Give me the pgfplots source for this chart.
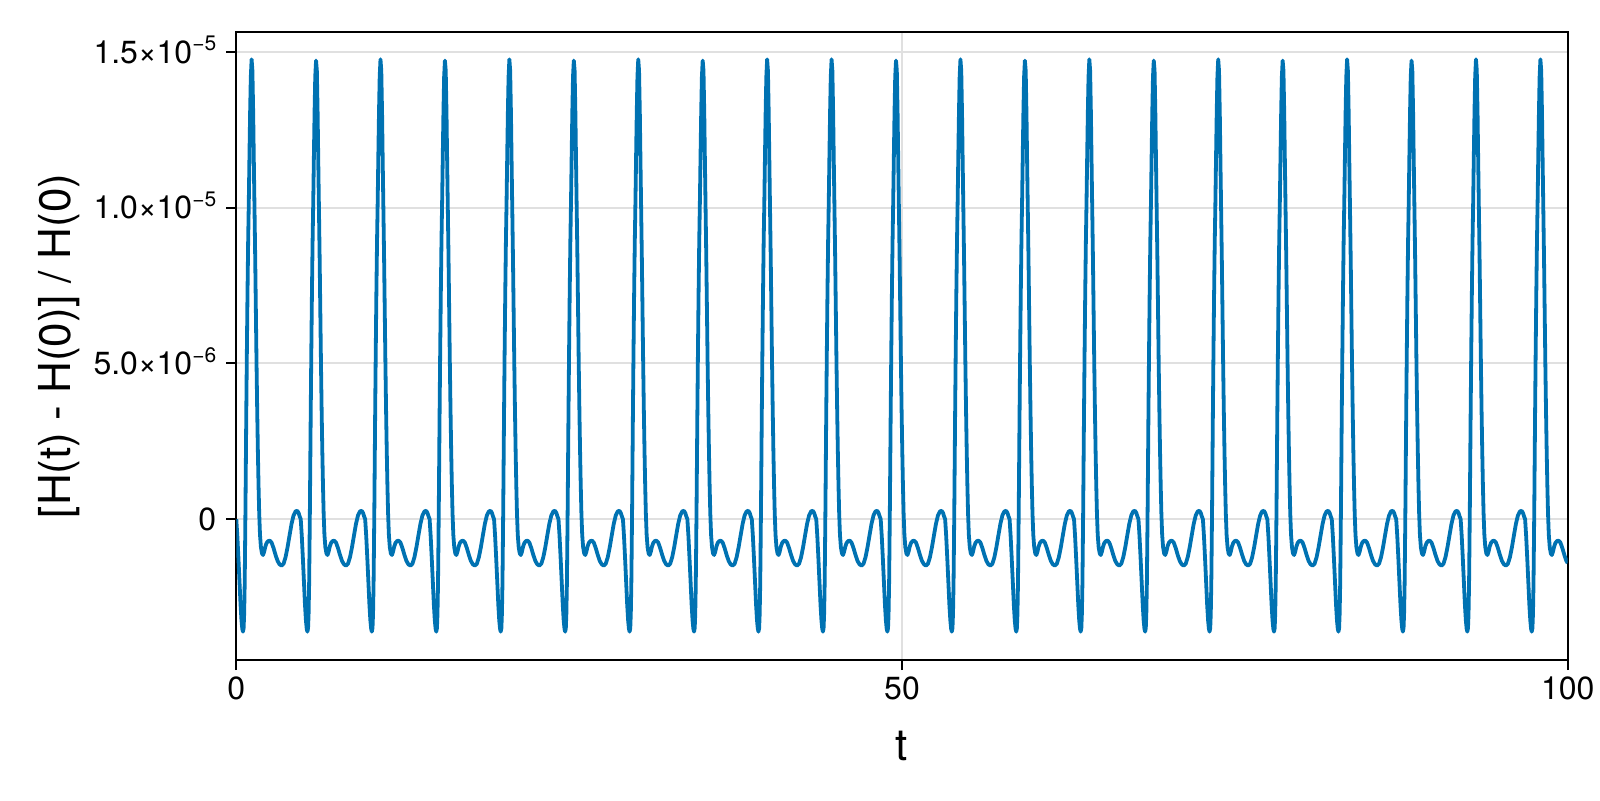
\documentclass[border=0pt]{standalone}
\usepackage{fontspec}
\setmainfont{TeX Gyre Heros}
\usepackage{pgfplots}
\pgfplotsset{compat=1.18}
\definecolor{wongblue}{RGB}{0,114,178}
% tick label like 1.5x10^-5, all in the text font
\newcommand{\sci}[2]{#1×10\raisebox{6.3pt}{\fontsize{10.5}{10.5}\selectfont −#2}}

\begin{document}
\begin{tikzpicture}
\useasboundingbox (-118.15pt,-70pt) rectangle (681.85pt,330pt);
\begin{axis}[
    at={(0,0)}, anchor=south west,
    scale only axis,
    width=665.7pt, height=314.2pt,
    xmin=0, xmax=100,
    ymin=-4.52, ymax=15.65,
    xtick={0,50,100},
    xticklabels={0,50,100},
    ytick={0,5,10,15},
    yticklabels={0,\sci{5.0}{6},\sci{1.0}{5},\sci{1.5}{5}},
    xtick pos=bottom, ytick pos=left,
    tick align=outside,
    major tick length=5pt,
    every tick/.style={black, line width=1pt},
    axis line style={line width=1pt},
    grid=major,
    major grid style={line width=1pt, color=black!12},
    tick label style={font=\fontsize{16}{19}\selectfont},
    yticklabel style={anchor=base east, yshift=-5.6pt, xshift=-1.5pt},
    label style={font=\fontsize{22}{26}\selectfont},
    xlabel={t},
    xlabel style={at={(axis description cs:0.5,-0.1603)}, anchor=base},
    ylabel={[H(t) - H(0)] / H(0)},
    ylabel style={at={(axis description cs:-0.1332,0.5)}, anchor=center},
]
% y in units of 1e-6
\addplot[wongblue, line width=1.9pt, line join=round] coordinates {
(0,0) (0.08,-0.55) (0.16,-1.25) (0.24,-2) (0.32,-2.75) (0.39,-3.25) (0.45,-3.52) (0.5,-3.61) (0.55,-3.5) (0.59,-3.05) (0.63,-2.1) (0.66,-0.9) (0.69,0.4) (0.72,1.9) (0.75,3.4) (0.79,5.2) (0.84,7.2) (0.89,8.9) (0.94,10.2) (0.99,11.7) (1.04,13.1) (1.09,14.2) (1.15,14.76) (1.21,14.4) (1.27,13) (1.32,11.4) (1.37,9.9) (1.42,8.4) (1.47,6.7) (1.52,5) (1.57,3.5) (1.62,2.2) (1.67,1.1) (1.72,0.2) (1.78,-0.5) (1.85,-0.9) (1.93,-1.1) (2.01,-1.15) (2.09,-1.05) (2.18,-0.88) (2.28,-0.76) (2.4,-0.7) (2.52,-0.69) (2.65,-0.75) (2.8,-0.93) (2.95,-1.15) (3.1,-1.34) (3.25,-1.45) (3.4,-1.49) (3.55,-1.43) (3.7,-1.22) (3.85,-0.9) (4,-0.52) (4.15,-0.15) (4.3,0.12) (4.45,0.25) (4.58,0.27) (4.68,0.2) (4.76,0.09)
(4.84,0) (4.92,-0.55) (5,-1.25) (5.08,-2) (5.16,-2.75) (5.23,-3.25) (5.29,-3.52) (5.34,-3.61) (5.39,-3.5) (5.43,-3.05) (5.47,-2.1) (5.5,-0.9) (5.53,0.4) (5.56,1.9) (5.59,3.4) (5.63,5.2) (5.68,7.2) (5.73,8.9) (5.78,10.2) (5.83,11.7) (5.88,13.1) (5.93,14.2) (5.99,14.72) (6.05,14.4) (6.11,13) (6.16,11.4) (6.21,9.9) (6.26,8.4) (6.31,6.7) (6.36,5) (6.41,3.5) (6.46,2.2) (6.51,1.1) (6.56,0.2) (6.62,-0.5) (6.69,-0.9) (6.77,-1.1) (6.85,-1.15) (6.93,-1.05) (7.02,-0.88) (7.12,-0.76) (7.24,-0.7) (7.36,-0.69) (7.49,-0.75) (7.64,-0.93) (7.79,-1.15) (7.94,-1.34) (8.09,-1.45) (8.24,-1.49) (8.39,-1.43) (8.54,-1.22) (8.69,-0.9) (8.84,-0.52) (8.99,-0.15) (9.14,0.12) (9.29,0.25) (9.42,0.27) (9.52,0.2) (9.6,0.09)
(9.68,0) (9.76,-0.55) (9.84,-1.25) (9.92,-2) (10,-2.75) (10.07,-3.25) (10.13,-3.52) (10.18,-3.61) (10.23,-3.5) (10.27,-3.05) (10.31,-2.1) (10.34,-0.9) (10.37,0.4) (10.4,1.9) (10.43,3.4) (10.47,5.2) (10.52,7.2) (10.57,8.9) (10.62,10.2) (10.67,11.7) (10.72,13.1) (10.77,14.2) (10.83,14.76) (10.89,14.4) (10.95,13) (11,11.4) (11.05,9.9) (11.1,8.4) (11.15,6.7) (11.2,5) (11.25,3.5) (11.3,2.2) (11.35,1.1) (11.4,0.2) (11.46,-0.5) (11.53,-0.9) (11.61,-1.1) (11.69,-1.15) (11.77,-1.05) (11.86,-0.88) (11.96,-0.76) (12.08,-0.7) (12.2,-0.69) (12.33,-0.75) (12.48,-0.93) (12.63,-1.15) (12.78,-1.34) (12.93,-1.45) (13.08,-1.49) (13.23,-1.43) (13.38,-1.22) (13.53,-0.9) (13.68,-0.52) (13.83,-0.15) (13.98,0.12) (14.13,0.25) (14.26,0.27) (14.36,0.2) (14.44,0.09)
(14.52,0) (14.6,-0.55) (14.68,-1.25) (14.76,-2) (14.84,-2.75) (14.91,-3.25) (14.97,-3.52) (15.02,-3.61) (15.07,-3.5) (15.11,-3.05) (15.15,-2.1) (15.18,-0.9) (15.21,0.4) (15.24,1.9) (15.27,3.4) (15.31,5.2) (15.36,7.2) (15.41,8.9) (15.46,10.2) (15.51,11.7) (15.56,13.1) (15.61,14.2) (15.67,14.72) (15.73,14.4) (15.79,13) (15.84,11.4) (15.89,9.9) (15.94,8.4) (15.99,6.7) (16.04,5) (16.09,3.5) (16.14,2.2) (16.19,1.1) (16.24,0.2) (16.3,-0.5) (16.37,-0.9) (16.45,-1.1) (16.53,-1.15) (16.61,-1.05) (16.7,-0.88) (16.8,-0.76) (16.92,-0.7) (17.04,-0.69) (17.17,-0.75) (17.32,-0.93) (17.47,-1.15) (17.62,-1.34) (17.77,-1.45) (17.92,-1.49) (18.07,-1.43) (18.22,-1.22) (18.37,-0.9) (18.52,-0.52) (18.67,-0.15) (18.82,0.12) (18.97,0.25) (19.1,0.27) (19.2,0.2) (19.28,0.09)
(19.36,0) (19.44,-0.55) (19.52,-1.25) (19.6,-2) (19.68,-2.75) (19.75,-3.25) (19.81,-3.52) (19.86,-3.61) (19.91,-3.5) (19.95,-3.05) (19.99,-2.1) (20.02,-0.9) (20.05,0.4) (20.08,1.9) (20.11,3.4) (20.15,5.2) (20.2,7.2) (20.25,8.9) (20.3,10.2) (20.35,11.7) (20.4,13.1) (20.45,14.2) (20.51,14.76) (20.57,14.4) (20.63,13) (20.68,11.4) (20.73,9.9) (20.78,8.4) (20.83,6.7) (20.88,5) (20.93,3.5) (20.98,2.2) (21.03,1.1) (21.08,0.2) (21.14,-0.5) (21.21,-0.9) (21.29,-1.1) (21.37,-1.15) (21.45,-1.05) (21.54,-0.88) (21.64,-0.76) (21.76,-0.7) (21.88,-0.69) (22.01,-0.75) (22.16,-0.93) (22.31,-1.15) (22.46,-1.34) (22.61,-1.45) (22.76,-1.49) (22.91,-1.43) (23.06,-1.22) (23.21,-0.9) (23.36,-0.52) (23.51,-0.15) (23.66,0.12) (23.81,0.25) (23.94,0.27) (24.04,0.2) (24.12,0.09)
(24.2,0) (24.28,-0.55) (24.36,-1.25) (24.44,-2) (24.52,-2.75) (24.59,-3.25) (24.65,-3.52) (24.7,-3.61) (24.75,-3.5) (24.79,-3.05) (24.83,-2.1) (24.86,-0.9) (24.89,0.4) (24.92,1.9) (24.95,3.4) (24.99,5.2) (25.04,7.2) (25.09,8.9) (25.14,10.2) (25.19,11.7) (25.24,13.1) (25.29,14.2) (25.35,14.72) (25.41,14.4) (25.47,13) (25.52,11.4) (25.57,9.9) (25.62,8.4) (25.67,6.7) (25.72,5) (25.77,3.5) (25.82,2.2) (25.87,1.1) (25.92,0.2) (25.98,-0.5) (26.05,-0.9) (26.13,-1.1) (26.21,-1.15) (26.29,-1.05) (26.38,-0.88) (26.48,-0.76) (26.6,-0.7) (26.72,-0.69) (26.85,-0.75) (27,-0.93) (27.15,-1.15) (27.3,-1.34) (27.45,-1.45) (27.6,-1.49) (27.75,-1.43) (27.9,-1.22) (28.05,-0.9) (28.2,-0.52) (28.35,-0.15) (28.5,0.12) (28.65,0.25) (28.78,0.27) (28.88,0.2) (28.96,0.09)
(29.04,0) (29.12,-0.55) (29.2,-1.25) (29.28,-2) (29.36,-2.75) (29.43,-3.25) (29.49,-3.52) (29.54,-3.61) (29.59,-3.5) (29.63,-3.05) (29.67,-2.1) (29.7,-0.9) (29.73,0.4) (29.76,1.9) (29.79,3.4) (29.83,5.2) (29.88,7.2) (29.93,8.9) (29.98,10.2) (30.03,11.7) (30.08,13.1) (30.13,14.2) (30.19,14.76) (30.25,14.4) (30.31,13) (30.36,11.4) (30.41,9.9) (30.46,8.4) (30.51,6.7) (30.56,5) (30.61,3.5) (30.66,2.2) (30.71,1.1) (30.76,0.2) (30.82,-0.5) (30.89,-0.9) (30.97,-1.1) (31.05,-1.15) (31.13,-1.05) (31.22,-0.88) (31.32,-0.76) (31.44,-0.7) (31.56,-0.69) (31.69,-0.75) (31.84,-0.93) (31.99,-1.15) (32.14,-1.34) (32.29,-1.45) (32.44,-1.49) (32.59,-1.43) (32.74,-1.22) (32.89,-0.9) (33.04,-0.52) (33.19,-0.15) (33.34,0.12) (33.49,0.25) (33.62,0.27) (33.72,0.2) (33.8,0.09)
(33.88,0) (33.96,-0.55) (34.04,-1.25) (34.12,-2) (34.2,-2.75) (34.27,-3.25) (34.33,-3.52) (34.38,-3.61) (34.43,-3.5) (34.47,-3.05) (34.51,-2.1) (34.54,-0.9) (34.57,0.4) (34.6,1.9) (34.63,3.4) (34.67,5.2) (34.72,7.2) (34.77,8.9) (34.82,10.2) (34.87,11.7) (34.92,13.1) (34.97,14.2) (35.03,14.72) (35.09,14.4) (35.15,13) (35.2,11.4) (35.25,9.9) (35.3,8.4) (35.35,6.7) (35.4,5) (35.45,3.5) (35.5,2.2) (35.55,1.1) (35.6,0.2) (35.66,-0.5) (35.73,-0.9) (35.81,-1.1) (35.89,-1.15) (35.97,-1.05) (36.06,-0.88) (36.16,-0.76) (36.28,-0.7) (36.4,-0.69) (36.53,-0.75) (36.68,-0.93) (36.83,-1.15) (36.98,-1.34) (37.13,-1.45) (37.28,-1.49) (37.43,-1.43) (37.58,-1.22) (37.73,-0.9) (37.88,-0.52) (38.03,-0.15) (38.18,0.12) (38.33,0.25) (38.46,0.27) (38.56,0.2) (38.64,0.09)
(38.72,0) (38.8,-0.55) (38.88,-1.25) (38.96,-2) (39.04,-2.75) (39.11,-3.25) (39.17,-3.52) (39.22,-3.61) (39.27,-3.5) (39.31,-3.05) (39.35,-2.1) (39.38,-0.9) (39.41,0.4) (39.44,1.9) (39.47,3.4) (39.51,5.2) (39.56,7.2) (39.61,8.9) (39.66,10.2) (39.71,11.7) (39.76,13.1) (39.81,14.2) (39.87,14.76) (39.93,14.4) (39.99,13) (40.04,11.4) (40.09,9.9) (40.14,8.4) (40.19,6.7) (40.24,5) (40.29,3.5) (40.34,2.2) (40.39,1.1) (40.44,0.2) (40.5,-0.5) (40.57,-0.9) (40.65,-1.1) (40.73,-1.15) (40.81,-1.05) (40.9,-0.88) (41,-0.76) (41.12,-0.7) (41.24,-0.69) (41.37,-0.75) (41.52,-0.93) (41.67,-1.15) (41.82,-1.34) (41.97,-1.45) (42.12,-1.49) (42.27,-1.43) (42.42,-1.22) (42.57,-0.9) (42.72,-0.52) (42.87,-0.15) (43.02,0.12) (43.17,0.25) (43.3,0.27) (43.4,0.2) (43.48,0.09)
(43.56,0) (43.64,-0.55) (43.72,-1.25) (43.8,-2) (43.88,-2.75) (43.95,-3.25) (44.01,-3.52) (44.06,-3.61) (44.11,-3.5) (44.15,-3.05) (44.19,-2.1) (44.22,-0.9) (44.25,0.4) (44.28,1.9) (44.31,3.4) (44.35,5.2) (44.4,7.2) (44.45,8.9) (44.5,10.2) (44.55,11.7) (44.6,13.1) (44.65,14.2) (44.71,14.76) (44.77,14.4) (44.83,13) (44.88,11.4) (44.93,9.9) (44.98,8.4) (45.03,6.7) (45.08,5) (45.13,3.5) (45.18,2.2) (45.23,1.1) (45.28,0.2) (45.34,-0.5) (45.41,-0.9) (45.49,-1.1) (45.57,-1.15) (45.65,-1.05) (45.74,-0.88) (45.84,-0.76) (45.96,-0.7) (46.08,-0.69) (46.21,-0.75) (46.36,-0.93) (46.51,-1.15) (46.66,-1.34) (46.81,-1.45) (46.96,-1.49) (47.11,-1.43) (47.26,-1.22) (47.41,-0.9) (47.56,-0.52) (47.71,-0.15) (47.86,0.12) (48.01,0.25) (48.14,0.27) (48.24,0.2) (48.32,0.09)
(48.4,0) (48.48,-0.55) (48.56,-1.25) (48.64,-2) (48.72,-2.75) (48.79,-3.25) (48.85,-3.52) (48.9,-3.61) (48.95,-3.5) (48.99,-3.05) (49.03,-2.1) (49.06,-0.9) (49.09,0.4) (49.12,1.9) (49.15,3.4) (49.19,5.2) (49.24,7.2) (49.29,8.9) (49.34,10.2) (49.39,11.7) (49.44,13.1) (49.49,14.2) (49.55,14.72) (49.61,14.4) (49.67,13) (49.72,11.4) (49.77,9.9) (49.82,8.4) (49.87,6.7) (49.92,5) (49.97,3.5) (50.02,2.2) (50.07,1.1) (50.12,0.2) (50.18,-0.5) (50.25,-0.9) (50.33,-1.1) (50.41,-1.15) (50.49,-1.05) (50.58,-0.88) (50.68,-0.76) (50.8,-0.7) (50.92,-0.69) (51.05,-0.75) (51.2,-0.93) (51.35,-1.15) (51.5,-1.34) (51.65,-1.45) (51.8,-1.49) (51.95,-1.43) (52.1,-1.22) (52.25,-0.9) (52.4,-0.52) (52.55,-0.15) (52.7,0.12) (52.85,0.25) (52.98,0.27) (53.08,0.2) (53.16,0.09)
(53.24,0) (53.32,-0.55) (53.4,-1.25) (53.48,-2) (53.56,-2.75) (53.63,-3.25) (53.69,-3.52) (53.74,-3.61) (53.79,-3.5) (53.83,-3.05) (53.87,-2.1) (53.9,-0.9) (53.93,0.4) (53.96,1.9) (53.99,3.4) (54.03,5.2) (54.08,7.2) (54.13,8.9) (54.18,10.2) (54.23,11.7) (54.28,13.1) (54.33,14.2) (54.39,14.76) (54.45,14.4) (54.51,13) (54.56,11.4) (54.61,9.9) (54.66,8.4) (54.71,6.7) (54.76,5) (54.81,3.5) (54.86,2.2) (54.91,1.1) (54.96,0.2) (55.02,-0.5) (55.09,-0.9) (55.17,-1.1) (55.25,-1.15) (55.33,-1.05) (55.42,-0.88) (55.52,-0.76) (55.64,-0.7) (55.76,-0.69) (55.89,-0.75) (56.04,-0.93) (56.19,-1.15) (56.34,-1.34) (56.49,-1.45) (56.64,-1.49) (56.79,-1.43) (56.94,-1.22) (57.09,-0.9) (57.24,-0.52) (57.39,-0.15) (57.54,0.12) (57.69,0.25) (57.82,0.27) (57.92,0.2) (58,0.09)
(58.08,0) (58.16,-0.55) (58.24,-1.25) (58.32,-2) (58.4,-2.75) (58.47,-3.25) (58.53,-3.52) (58.58,-3.61) (58.63,-3.5) (58.67,-3.05) (58.71,-2.1) (58.74,-0.9) (58.77,0.4) (58.8,1.9) (58.83,3.4) (58.87,5.2) (58.92,7.2) (58.97,8.9) (59.02,10.2) (59.07,11.7) (59.12,13.1) (59.17,14.2) (59.23,14.72) (59.29,14.4) (59.35,13) (59.4,11.4) (59.45,9.9) (59.5,8.4) (59.55,6.7) (59.6,5) (59.65,3.5) (59.7,2.2) (59.75,1.1) (59.8,0.2) (59.86,-0.5) (59.93,-0.9) (60.01,-1.1) (60.09,-1.15) (60.17,-1.05) (60.26,-0.88) (60.36,-0.76) (60.48,-0.7) (60.6,-0.69) (60.73,-0.75) (60.88,-0.93) (61.03,-1.15) (61.18,-1.34) (61.33,-1.45) (61.48,-1.49) (61.63,-1.43) (61.78,-1.22) (61.93,-0.9) (62.08,-0.52) (62.23,-0.15) (62.38,0.12) (62.53,0.25) (62.66,0.27) (62.76,0.2) (62.84,0.09)
(62.92,0) (63,-0.55) (63.08,-1.25) (63.16,-2) (63.24,-2.75) (63.31,-3.25) (63.37,-3.52) (63.42,-3.61) (63.47,-3.5) (63.51,-3.05) (63.55,-2.1) (63.58,-0.9) (63.61,0.4) (63.64,1.9) (63.67,3.4) (63.71,5.2) (63.76,7.2) (63.81,8.9) (63.86,10.2) (63.91,11.7) (63.96,13.1) (64.01,14.2) (64.07,14.76) (64.13,14.4) (64.19,13) (64.24,11.4) (64.29,9.9) (64.34,8.4) (64.39,6.7) (64.44,5) (64.49,3.5) (64.54,2.2) (64.59,1.1) (64.64,0.2) (64.7,-0.5) (64.77,-0.9) (64.85,-1.1) (64.93,-1.15) (65.01,-1.05) (65.1,-0.88) (65.2,-0.76) (65.32,-0.7) (65.44,-0.69) (65.57,-0.75) (65.72,-0.93) (65.87,-1.15) (66.02,-1.34) (66.17,-1.45) (66.32,-1.49) (66.47,-1.43) (66.62,-1.22) (66.77,-0.9) (66.92,-0.52) (67.07,-0.15) (67.22,0.12) (67.37,0.25) (67.5,0.27) (67.6,0.2) (67.68,0.09)
(67.76,0) (67.84,-0.55) (67.92,-1.25) (68,-2) (68.08,-2.75) (68.15,-3.25) (68.21,-3.52) (68.26,-3.61) (68.31,-3.5) (68.35,-3.05) (68.39,-2.1) (68.42,-0.9) (68.45,0.4) (68.48,1.9) (68.51,3.4) (68.55,5.2) (68.6,7.2) (68.65,8.9) (68.7,10.2) (68.75,11.7) (68.8,13.1) (68.85,14.2) (68.91,14.72) (68.97,14.4) (69.03,13) (69.08,11.4) (69.13,9.9) (69.18,8.4) (69.23,6.7) (69.28,5) (69.33,3.5) (69.38,2.2) (69.43,1.1) (69.48,0.2) (69.54,-0.5) (69.61,-0.9) (69.69,-1.1) (69.77,-1.15) (69.85,-1.05) (69.94,-0.88) (70.04,-0.76) (70.16,-0.7) (70.28,-0.69) (70.41,-0.75) (70.56,-0.93) (70.71,-1.15) (70.86,-1.34) (71.01,-1.45) (71.16,-1.49) (71.31,-1.43) (71.46,-1.22) (71.61,-0.9) (71.76,-0.52) (71.91,-0.15) (72.06,0.12) (72.21,0.25) (72.34,0.27) (72.44,0.2) (72.52,0.09)
(72.6,0) (72.68,-0.55) (72.76,-1.25) (72.84,-2) (72.92,-2.75) (72.99,-3.25) (73.05,-3.52) (73.1,-3.61) (73.15,-3.5) (73.19,-3.05) (73.23,-2.1) (73.26,-0.9) (73.29,0.4) (73.32,1.9) (73.35,3.4) (73.39,5.2) (73.44,7.2) (73.49,8.9) (73.54,10.2) (73.59,11.7) (73.64,13.1) (73.69,14.2) (73.75,14.76) (73.81,14.4) (73.87,13) (73.92,11.4) (73.97,9.9) (74.02,8.4) (74.07,6.7) (74.12,5) (74.17,3.5) (74.22,2.2) (74.27,1.1) (74.32,0.2) (74.38,-0.5) (74.45,-0.9) (74.53,-1.1) (74.61,-1.15) (74.69,-1.05) (74.78,-0.88) (74.88,-0.76) (75,-0.7) (75.12,-0.69) (75.25,-0.75) (75.4,-0.93) (75.55,-1.15) (75.7,-1.34) (75.85,-1.45) (76,-1.49) (76.15,-1.43) (76.3,-1.22) (76.45,-0.9) (76.6,-0.52) (76.75,-0.15) (76.9,0.12) (77.05,0.25) (77.18,0.27) (77.28,0.2) (77.36,0.09)
(77.44,0) (77.52,-0.55) (77.6,-1.25) (77.68,-2) (77.76,-2.75) (77.83,-3.25) (77.89,-3.52) (77.94,-3.61) (77.99,-3.5) (78.03,-3.05) (78.07,-2.1) (78.1,-0.9) (78.13,0.4) (78.16,1.9) (78.19,3.4) (78.23,5.2) (78.28,7.2) (78.33,8.9) (78.38,10.2) (78.43,11.7) (78.48,13.1) (78.53,14.2) (78.59,14.72) (78.65,14.4) (78.71,13) (78.76,11.4) (78.81,9.9) (78.86,8.4) (78.91,6.7) (78.96,5) (79.01,3.5) (79.06,2.2) (79.11,1.1) (79.16,0.2) (79.22,-0.5) (79.29,-0.9) (79.37,-1.1) (79.45,-1.15) (79.53,-1.05) (79.62,-0.88) (79.72,-0.76) (79.84,-0.7) (79.96,-0.69) (80.09,-0.75) (80.24,-0.93) (80.39,-1.15) (80.54,-1.34) (80.69,-1.45) (80.84,-1.49) (80.99,-1.43) (81.14,-1.22) (81.29,-0.9) (81.44,-0.52) (81.59,-0.15) (81.74,0.12) (81.89,0.25) (82.02,0.27) (82.12,0.2) (82.2,0.09)
(82.28,0) (82.36,-0.55) (82.44,-1.25) (82.52,-2) (82.6,-2.75) (82.67,-3.25) (82.73,-3.52) (82.78,-3.61) (82.83,-3.5) (82.87,-3.05) (82.91,-2.1) (82.94,-0.9) (82.97,0.4) (83,1.9) (83.03,3.4) (83.07,5.2) (83.12,7.2) (83.17,8.9) (83.22,10.2) (83.27,11.7) (83.32,13.1) (83.37,14.2) (83.43,14.76) (83.49,14.4) (83.55,13) (83.6,11.4) (83.65,9.9) (83.7,8.4) (83.75,6.7) (83.8,5) (83.85,3.5) (83.9,2.2) (83.95,1.1) (84,0.2) (84.06,-0.5) (84.13,-0.9) (84.21,-1.1) (84.29,-1.15) (84.37,-1.05) (84.46,-0.88) (84.56,-0.76) (84.68,-0.7) (84.8,-0.69) (84.93,-0.75) (85.08,-0.93) (85.23,-1.15) (85.38,-1.34) (85.53,-1.45) (85.68,-1.49) (85.83,-1.43) (85.98,-1.22) (86.13,-0.9) (86.28,-0.52) (86.43,-0.15) (86.58,0.12) (86.73,0.25) (86.86,0.27) (86.96,0.2) (87.04,0.09)
(87.12,0) (87.2,-0.55) (87.28,-1.25) (87.36,-2) (87.44,-2.75) (87.51,-3.25) (87.57,-3.52) (87.62,-3.61) (87.67,-3.5) (87.71,-3.05) (87.75,-2.1) (87.78,-0.9) (87.81,0.4) (87.84,1.9) (87.87,3.4) (87.91,5.2) (87.96,7.2) (88.01,8.9) (88.06,10.2) (88.11,11.7) (88.16,13.1) (88.21,14.2) (88.27,14.72) (88.33,14.4) (88.39,13) (88.44,11.4) (88.49,9.9) (88.54,8.4) (88.59,6.7) (88.64,5) (88.69,3.5) (88.74,2.2) (88.79,1.1) (88.84,0.2) (88.9,-0.5) (88.97,-0.9) (89.05,-1.1) (89.13,-1.15) (89.21,-1.05) (89.3,-0.88) (89.4,-0.76) (89.52,-0.7) (89.64,-0.69) (89.77,-0.75) (89.92,-0.93) (90.07,-1.15) (90.22,-1.34) (90.37,-1.45) (90.52,-1.49) (90.67,-1.43) (90.82,-1.22) (90.97,-0.9) (91.12,-0.52) (91.27,-0.15) (91.42,0.12) (91.57,0.25) (91.7,0.27) (91.8,0.2) (91.88,0.09)
(91.96,0) (92.04,-0.55) (92.12,-1.25) (92.2,-2) (92.28,-2.75) (92.35,-3.25) (92.41,-3.52) (92.46,-3.61) (92.51,-3.5) (92.55,-3.05) (92.59,-2.1) (92.62,-0.9) (92.65,0.4) (92.68,1.9) (92.71,3.4) (92.75,5.2) (92.8,7.2) (92.85,8.9) (92.9,10.2) (92.95,11.7) (93,13.1) (93.05,14.2) (93.11,14.76) (93.17,14.4) (93.23,13) (93.28,11.4) (93.33,9.9) (93.38,8.4) (93.43,6.7) (93.48,5) (93.53,3.5) (93.58,2.2) (93.63,1.1) (93.68,0.2) (93.74,-0.5) (93.81,-0.9) (93.89,-1.1) (93.97,-1.15) (94.05,-1.05) (94.14,-0.88) (94.24,-0.76) (94.36,-0.7) (94.48,-0.69) (94.61,-0.75) (94.76,-0.93) (94.91,-1.15) (95.06,-1.34) (95.21,-1.45) (95.36,-1.49) (95.51,-1.43) (95.66,-1.22) (95.81,-0.9) (95.96,-0.52) (96.11,-0.15) (96.26,0.12) (96.41,0.25) (96.54,0.27) (96.64,0.2) (96.72,0.09)
(96.8,0) (96.88,-0.55) (96.96,-1.25) (97.04,-2) (97.12,-2.75) (97.19,-3.25) (97.25,-3.52) (97.3,-3.61) (97.35,-3.5) (97.39,-3.05) (97.43,-2.1) (97.46,-0.9) (97.49,0.4) (97.52,1.9) (97.55,3.4) (97.59,5.2) (97.64,7.2) (97.69,8.9) (97.74,10.2) (97.79,11.7) (97.84,13.1) (97.89,14.2) (97.95,14.76) (98.01,14.4) (98.07,13) (98.12,11.4) (98.17,9.9) (98.22,8.4) (98.27,6.7) (98.32,5) (98.37,3.5) (98.42,2.2) (98.47,1.1) (98.52,0.2) (98.58,-0.5) (98.65,-0.9) (98.73,-1.1) (98.81,-1.15) (98.89,-1.05) (98.98,-0.88) (99.08,-0.76) (99.2,-0.7) (99.32,-0.69) (99.45,-0.75) (99.6,-0.93) (99.75,-1.15) (99.9,-1.34) (100,-1.41)
};
\end{axis}
\end{tikzpicture}
\end{document}
